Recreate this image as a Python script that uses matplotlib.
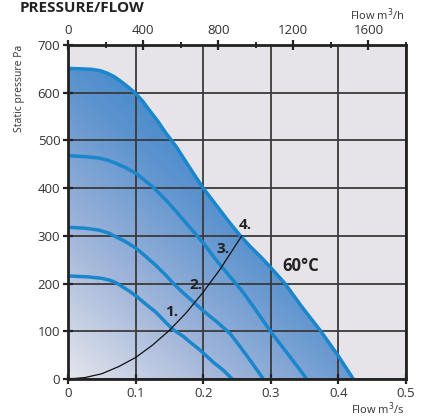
import numpy as np
import matplotlib
matplotlib.use("Agg")
import matplotlib.pyplot as plt
from matplotlib.colors import LinearSegmentedColormap
from matplotlib.patches import Polygon

plt.rcParams['font.family'] = ['Open Sans', 'DejaVu Sans']

# Fan curves (flow m3/s, static pressure Pa)
q_60c = [0, 0.02, 0.035, 0.048, 0.058, 0.068, 0.078, 0.088, 0.098, 0.11, 0.12, 0.133, 0.145, 0.16, 0.18,
         0.2, 0.22, 0.24, 0.255, 0.27, 0.285, 0.299, 0.321, 0.345, 0.374, 0.40, 0.422]
p_60c = [651, 650, 649, 646, 641, 634, 624, 613, 601, 583, 564, 540, 515, 487, 443,
         400, 363, 326, 300, 277, 256, 235, 200, 153, 100, 48, 0]

q_3 = [0, 0.025, 0.046, 0.06, 0.071, 0.085, 0.1006, 0.112, 0.125, 0.145, 0.16, 0.18, 0.2, 0.22,
       0.24, 0.26, 0.28, 0.30, 0.32, 0.34, 0.353]
p_3 = [468, 466, 463, 458, 452, 443, 431, 418, 403, 375, 351, 318, 285, 248,
       214, 180, 140, 99, 62, 25, 0]

q_2 = [0, 0.025, 0.046, 0.06, 0.071, 0.085, 0.1006, 0.115, 0.13, 0.145, 0.156, 0.17, 0.185,
       0.2, 0.22, 0.24, 0.265, 0.289]
p_2 = [318, 316, 312, 306, 298, 288, 274, 257, 238, 217, 200, 181, 162,
       143, 120, 95, 48, 0]

q_1 = [0, 0.03, 0.05, 0.062, 0.072, 0.082, 0.092, 0.1016, 0.115, 0.13, 0.145, 0.156, 0.17,
       0.18, 0.195, 0.215, 0.23, 0.243]
p_1 = [216, 214, 211, 207, 201, 192, 183, 173, 157, 140, 118, 103, 90,
       78, 61, 35, 18, 0]

# System curve
q_sys = [0, 0.025, 0.05, 0.075, 0.1, 0.125, 0.15, 0.175, 0.2, 0.225, 0.257]
p_sys = [0, 3, 11, 26, 45, 71, 102, 139, 182, 230, 300]

# Labels
point_labels = ["1.", "2.", "3.", "4."]
point_q = [0.154, 0.19, 0.229, 0.263]
point_p = [140, 197, 272, 323]
temp_label = "60°C"

x_ticks = [0, 0.1, 0.2, 0.3, 0.4, 0.5]
x_ticklabels = ["0", "0.1", "0.2", "0.3", "0.4", "0.5"]
y_ticks = [0, 100, 200, 300, 400, 500, 600, 700]
top_major = [0, 400, 800, 1200, 1600]
top_minor = [200, 600, 1000, 1400, 1800]

W, H = 429, 418
fig = plt.figure(figsize=(W / 100, H / 100), dpi=100)
ax = fig.add_axes([68 / W, 1 - 379 / H, (406 - 68) / W, (379 - 45) / H])
ax.set_xlim(0, 0.5)
ax.set_ylim(0, 700)
ax.set_facecolor('#e6e4e8')

# gradient fill under the outer curve
cmap = LinearSegmentedColormap.from_list('g', ['#e4e5ec', '#a2b6da', '#5e94cf', '#2a80c8'])
gx = np.linspace(0, 0.5, 300)
gy = np.linspace(0, 700, 300)
GX, GY = np.meshgrid(gx, gy)
T = np.clip(0.6 * GX / 0.42 + 0.7 * GY / 650, 0, 1)
im = ax.imshow(T, extent=[0, 0.5, 0, 700], origin='lower', cmap=cmap, vmin=0, vmax=1,
               aspect='auto', zorder=1, interpolation='bilinear')
poly = Polygon(list(zip(q_60c, p_60c)) + [(0, 0)], closed=True, facecolor='none', edgecolor='none')
ax.add_patch(poly)
im.set_clip_path(poly)

ax.grid(True, color='#3a3a3a', linewidth=1.3, zorder=2)
ax.set_axisbelow(False)
for gl in ax.get_xgridlines() + ax.get_ygridlines():
    gl.set_zorder(2)

blue = '#1a86cb'
for q, p in [(q_60c, p_60c), (q_3, p_3), (q_2, p_2), (q_1, p_1)]:
    ax.plot(q, p, color=blue, linewidth=2.5, zorder=4, solid_capstyle='butt', solid_joinstyle='round')
ax.plot(q_sys, p_sys, color='#111111', linewidth=0.9, zorder=5)

for lab, q, p in zip(point_labels, point_q, point_p):
    ax.text(q, p, lab, fontsize=11, fontweight='bold', color='#222222', ha='center', va='center', zorder=6)
ax.text(0.345, 236, temp_label, fontsize=12, fontweight='bold', color='#222222', ha='center', va='center', zorder=6)

ax.set_xticks(x_ticks)
ax.set_xticklabels(x_ticklabels)
ax.set_yticks(y_ticks)
ax.tick_params(axis='both', direction='inout', length=7, width=1.6, colors='#222222',
               labelcolor='#333333', labelsize=9.5, pad=2)
for s in ax.spines.values():
    s.set_color('#222222')
    s.set_linewidth(2)
    s.set_zorder(7)

# top axis in m3/h
conv = 3600.0
top = ax.secondary_xaxis('top', functions=(lambda x: x * conv, lambda x: x / conv))
top.set_xticks(top_major)
top.set_xticks(top_minor, minor=True)
top.tick_params(axis='x', which='major', direction='inout', length=7, width=1.6, colors='#222222',
                labelcolor='#333333', labelsize=9.5, pad=2)
top.tick_params(axis='x', which='minor', direction='inout', length=5, width=1.4, colors='#222222')

fig.text(20 / W, 1 - 1 / H, "PRESSURE/FLOW", fontsize=11, fontweight='bold', color='#222222',
         ha='left', va='top')
fig.text(404 / W, 1 - 15 / H, "Flow m$^3$/h", fontsize=8, color='#333333', ha='right', va='center')
fig.text(404 / W, 1 - 409 / H, "Flow m$^3$/s", fontsize=8, color='#333333', ha='right', va='center')
fig.text(20 / W, 1 - 88 / H, "Static pressure Pa", fontsize=7.5, color='#333333', ha='center',
         va='center', rotation=90)

fig.savefig('out.png', dpi=100)
